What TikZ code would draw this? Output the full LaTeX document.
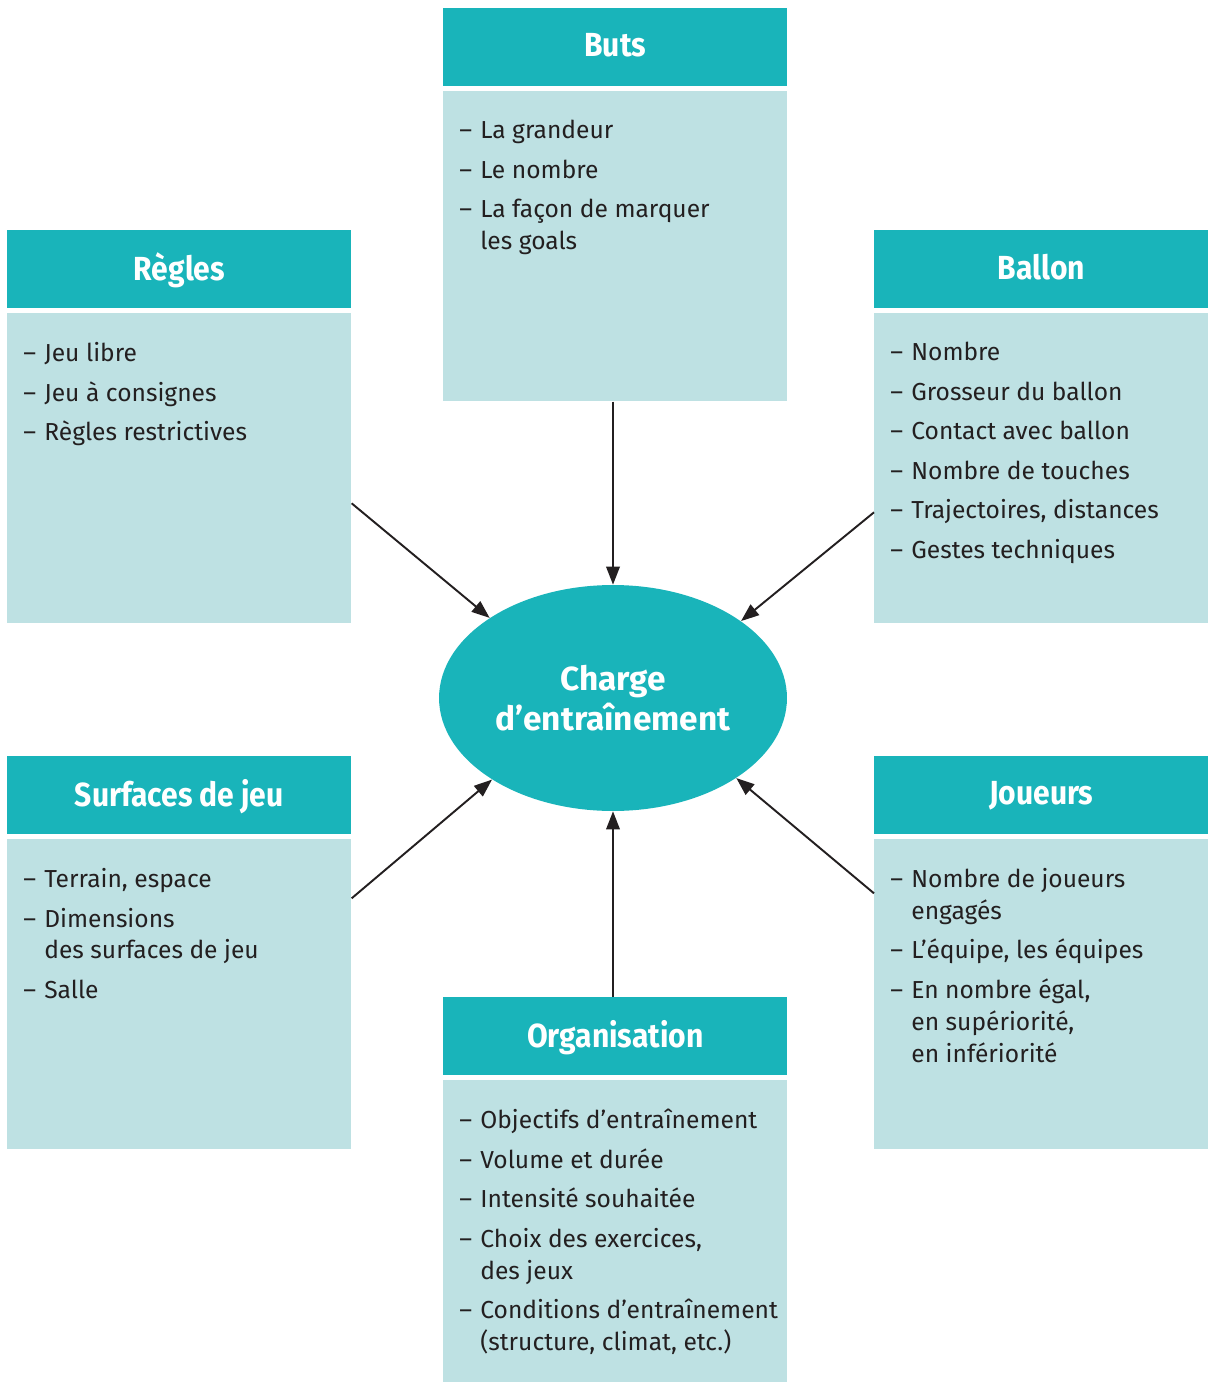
\documentclass[tikz,border=0pt]{standalone}
\usepackage{fontspec}
\setmainfont{Fira Sans}
\newfontfamily\titrefont[FakeStretch=0.9]{Fira Sans}
\usetikzlibrary{arrows.meta,positioning,shapes.geometric}
\definecolor{tete}{HTML}{19B4BA}
\definecolor{corps}{HTML}{BEE1E3}
\definecolor{encre}{HTML}{231F20}
\newcommand{\tiret}{\makebox[0.42cm][l]{–}}
\newcommand{\suite}{\hspace*{0.42cm}}

\begin{document}
\begin{tikzpicture}[x=0.02cm, y=-0.02cm,
  head/.style={rectangle, fill=tete, anchor=north west, minimum width=6.88cm,
               minimum height=1.56cm, inner sep=0pt, text=white, text depth=0.1cm,
               font=\titrefont\fontsize{19}{22.7}\selectfont\bfseries},
  corpus/.style={rectangle, fill=corps, anchor=north west, minimum width=6.88cm,
                 minimum height=6.2cm, inner sep=0pt},
  liste/.style={anchor=north west, inner sep=0pt, align=left, text=encre,
                font=\fontsize{14}{18.1}\selectfont},
  fleche/.style={-{Triangle[length=0.36cm,width=0.27cm]}, line width=1.1pt, draw=encre}
]
  \useasboundingbox (0,0) rectangle (1208,1382);

  % centre
  \node[ellipse, fill=tete, minimum width=6.96cm, minimum height=4.52cm, inner sep=0pt,
        text=white, align=center, font=\fontsize{19}{22.7}\selectfont\bfseries]
        (charge) at (613,698) {Charge\\ d’entraînement};

  % Buts
  \node[head] (butsH) at (443,8) {Buts};
  \node[corpus] (butsB) at (443,91) {};
  \node[liste] (butsL) at ([shift={(16,29)}]butsB.north west)
    {\tiret La grandeur\\[4.4pt] \tiret Le nombre\\[4.4pt]
     \tiret La façon de marquer\\ \suite les goals};

  % Regles
  \node[head] (reglesH) at (7,230) {Règles};
  \node[corpus] (reglesB) at (7,313) {};
  \node[liste] (reglesL) at ([shift={(16,29)}]reglesB.north west)
    {\tiret Jeu libre\\[4.4pt] \tiret Jeu à consignes\\[4.4pt] \tiret Règles restrictives};

  % Ballon
  \node[head, minimum width=6.68cm] (ballonH) at (874,230) {Ballon};
  \node[corpus, minimum width=6.68cm] (ballonB) at (874,313) {};
  \node[liste] (ballonL) at ([shift={(16,29)}]ballonB.north west)
    {\tiret Nombre\\[4.4pt] \tiret Grosseur du ballon\\[4.4pt] \tiret Contact avec ballon\\[4.4pt]
     \tiret Nombre de touches\\[4.4pt] \tiret Trajectoires, distances\\[4.4pt]
     \tiret Gestes techniques};

  % Surfaces de jeu
  \node[head] (surfH) at (7,756) {Surfaces de jeu};
  \node[corpus] (surfB) at (7,839) {};
  \node[liste] (surfL) at ([shift={(16,29)}]surfB.north west)
    {\tiret Terrain, espace\\[4.4pt] \tiret Dimensions\\ \suite des surfaces de jeu\\[4.4pt]
     \tiret Salle};

  % Joueurs
  \node[head, minimum width=6.68cm] (joueursH) at (874,756) {Joueurs};
  \node[corpus, minimum width=6.68cm] (joueursB) at (874,839) {};
  \node[liste] (joueursL) at ([shift={(16,29)}]joueursB.north west)
    {\tiret Nombre de joueurs\\ \suite engagés\\[4.4pt] \tiret L’équipe, les équipes\\[4.4pt]
     \tiret En nombre égal,\\ \suite en supériorité,\\ \suite en infériorité};

  % Organisation
  \node[head] (orgaH) at (443,997) {Organisation};
  \node[corpus, minimum height=6.04cm] (orgaB) at (443,1080) {};
  \node[liste] (orgaL) at ([shift={(16,29)}]orgaB.north west)
    {\tiret Objectifs d’entraînement\\[4.4pt] \tiret Volume et durée\\[4.4pt]
     \tiret Intensité souhaitée\\[4.4pt] \tiret Choix des exercices,\\ \suite des jeux\\[4.4pt]
     \tiret Conditions d’entraînement\\ \suite(structure, climat, etc.)};

  % fleches
  \draw[fleche] (butsB.south -| charge.north) -- (charge.north);
  \draw[fleche] (orgaH.north -| charge.south) -- (charge.south);
  \draw[fleche] ([yshift=-0.7cm]reglesB.east) -- (charge.147);
  \draw[fleche] ([yshift=-0.88cm]ballonB.west) -- (charge.31);
  \draw[fleche] ([yshift=1.92cm]surfB.east) -- (charge.214);
  \draw[fleche] ([yshift=2.02cm]joueursB.west) -- (charge.327);
\end{tikzpicture}
\end{document}
